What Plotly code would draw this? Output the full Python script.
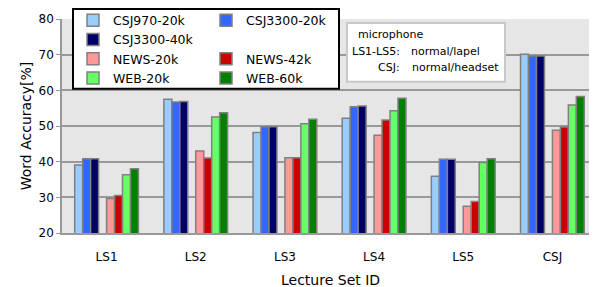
import plotly.graph_objects as go

categories = ["LS1", "LS2", "LS3", "LS4", "LS5", "CSJ"]
csj970_20k = [39.1, 57.5, 48.2, 52.2, 35.9, 70.1]
csj3300_20k = [40.8, 56.7, 49.8, 55.4, 40.7, 69.6]
csj3300_40k = [40.8, 56.9, 49.8, 55.6, 40.7, 69.6]
news_20k = [29.7, 43.0, 41.1, 47.4, 27.5, 48.8]
news_42k = [30.5, 41.0, 41.1, 51.7, 28.8, 49.7]
web_20k = [36.3, 52.5, 50.6, 54.3, 39.8, 55.9]
web_60k = [38.0, 53.7, 51.9, 57.8, 40.8, 58.3]
y_ticks = [20, 30, 40, 50, 60, 70, 80]

series = [
    ("CSJ970-20k", csj970_20k, "#99ccff", "legend"),
    ("CSJ3300-20k", csj3300_20k, "#3366ff", "legend2"),
    ("CSJ3300-40k", csj3300_40k, "#000066", "legend"),
    (" ", None, "rgba(0,0,0,0)", "legend2"),
    ("NEWS-20k", news_20k, "#ff9999", "legend"),
    ("NEWS-42k", news_42k, "#cc0000", "legend2"),
    ("WEB-20k", web_20k, "#66ff66", "legend"),
    ("WEB-60k", web_60k, "#008000", "legend2"),
]

fig = go.Figure()
for name, vals, color, leg in series:
    spacer = vals is None
    fig.add_trace(go.Bar(
        x=categories,
        y=[0] * len(categories) if spacer else vals,
        name=name,
        legend=leg,
        marker=dict(color=color,
                    line=dict(color="rgba(0,0,0,0)" if spacer else "#808080",
                              width=0 if spacer else 1.5)),
        hoverinfo="skip" if spacer else None,
    ))

# the page body adds an 8px margin, so the figure is drawn 8px smaller and
# all layout positions below are given in window pixels minus that offset
OFF = 8
W, H = 597 - OFF, 287 - OFF
L, R, T, B = 62 - OFF, 0, 19 - OFF, 287 - 233.5
pw, ph = W - L - R, H - T - B

def px(x):
    return (x - OFF - L) / pw

def py(y):
    return (H - B - (y - OFF)) / ph

legfont = dict(family="DejaVu Sans", size=12.5, color="#000")
fig.update_layout(
    width=W, height=H,
    margin=dict(l=L, r=R, t=T, b=B, autoexpand=False),
    paper_bgcolor="white",
    plot_bgcolor="#e6e6e6",
    barmode="group",
    bargap=0.285,
    bargroupgap=0,
    font=dict(family="DejaVu Sans", size=12, color="#000"),
    legend=dict(x=px(73), y=py(5.5), xanchor="left", yanchor="top",
                bgcolor="rgba(0,0,0,0)", font=legfont, traceorder="normal"),
    legend2=dict(x=px(206), y=py(5.5), xanchor="left", yanchor="top",
                 bgcolor="rgba(0,0,0,0)", font=legfont, traceorder="normal"),
    xaxis=dict(showgrid=False, showline=True, linecolor="#999999", linewidth=1.5,
               ticks="", ticklabelstandoff=12, tickfont=dict(size=12)),
    yaxis=dict(range=[20, 80], tickvals=y_ticks, showgrid=True,
               gridcolor="#999999", gridwidth=1.5, showline=True,
               linecolor="#999999", linewidth=1.5, ticks="outside", ticklen=4,
               tickcolor="#999999", tickfont=dict(size=12),
               title=dict(text="Word Accuracy[%]", font=dict(size=14), standoff=4)),
    shapes=[
        dict(type="rect", xref="paper", yref="paper", layer="above",
             x0=px(73), x1=px(339), y0=py(89), y1=py(9),
             fillcolor="white", line=dict(color="black", width=2)),
        dict(type="rect", xref="paper", yref="paper", layer="above",
             x0=px(347), x1=px(505), y0=py(82), y1=py(23),
             fillcolor="white", line=dict(color="#c8c8c8", width=2)),
    ],
)

fig.add_annotation(text="Lecture Set ID", xref="paper", yref="paper",
                   x=px(330), y=py(281), xanchor="center", yanchor="middle",
                   showarrow=False, font=dict(family="DejaVu Sans", size=14))

anns = [
    ("microphone", 356, 35, "left"),
    ("LS1-LS5:", 402, 52, "right"),
    ("normal/lapel", 409, 52, "left"),
    ("CSJ:", 402, 68, "right"),
    ("normal/headset", 410, 68, "left"),
]
for text, x, y, anchor in anns:
    fig.add_annotation(text=text, xref="paper", yref="paper", x=px(x), y=py(y),
                       xanchor=anchor, yanchor="middle", showarrow=False,
                       font=dict(family="DejaVu Sans", size=11, color="#000"))

fig.write_html("out.html")
